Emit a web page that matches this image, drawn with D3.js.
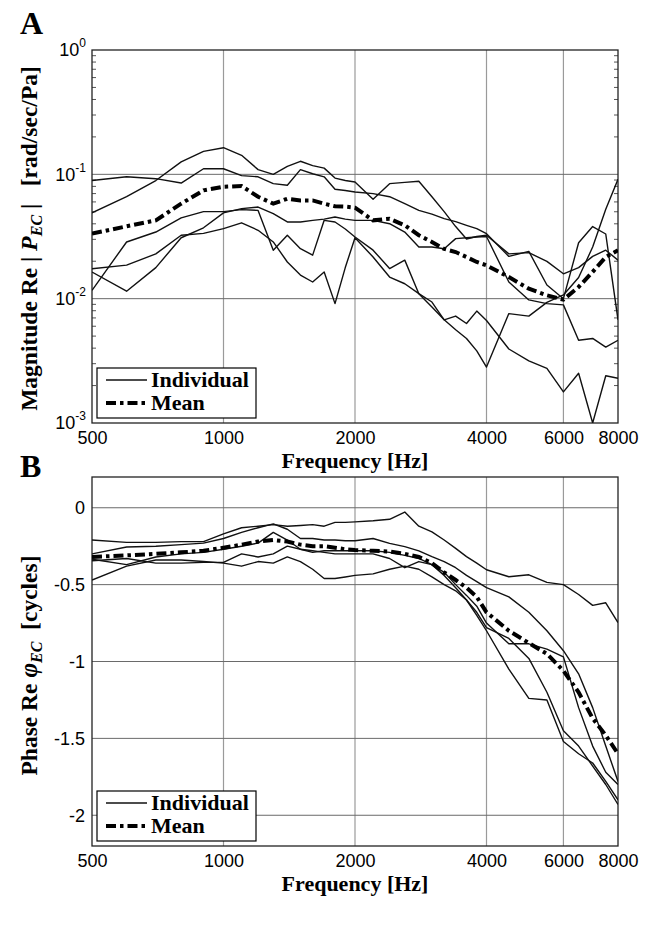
<!DOCTYPE html>
<html><head><meta charset="utf-8">
<script src="https://cdn.jsdelivr.net/npm/d3@7"></script>
<style>body{margin:0;background:#fff}</style>
</head><body>
<svg id="c" width="653" height="926"></svg>
<script>
// Frequencies (Hz)
const freqs = [500,600,700,800,900,1000,1100,1200,1300,1400,1500,1600,1700,1800,1900,2000,
  2200,2400,2600,2800,3000,3200,3400,3600,3800,4000,
  4500,5000,5500,6000,6500,7000,7500,8000];
const xTicks = [500,1000,2000,4000,6000,8000];

// Panel A: log10 of magnitude (rad/sec/Pa)
const magMeanLog10 = [-1.477,-1.418,-1.37,-1.236,-1.129,-1.10,-1.094,-1.18,-1.236,-1.196,-1.21,-1.21,-1.236,-1.257,-1.26,-1.268,
  -1.37,-1.357,-1.41,-1.49,-1.544,-1.60,-1.625,-1.665,-1.705,-1.732,
  -1.826,-1.92,-1.973,-2.008,-1.906,-1.785,-1.665,-1.611];
const magInd1Log10 = [-1.31,-1.18,-1.05,-0.90,-0.815,-0.786,-0.847,-0.962,-1.0,-0.936,-0.895,-0.93,-0.95,-1.03,-1.05,-1.062,
  -1.2,-1.075,-1.065,-1.056,-1.18,-1.30,-1.42,-1.52,-1.50,-1.49,
  -1.64,-1.63,-1.70,-1.80,-1.75,-1.66,-1.61,-1.69];
const magInd2Log10 = [-1.05,-1.02,-1.035,-1.07,-0.955,-0.955,-1.01,-1.02,-1.075,-1.088,-0.962,-0.995,-1.02,-1.12,-1.13,-1.142,
  -1.155,-1.18,-1.236,-1.29,-1.32,-1.356,-1.38,-1.41,-1.437,-1.477,
  -1.66,-1.62,-1.89,-2.0,-1.55,-1.42,-1.48,-2.17];
const magInd3Log10 = [-1.76,-1.73,-1.64,-1.49,-1.475,-1.437,-1.39,-1.45,-1.544,-1.705,-1.81,-1.866,-1.785,-2.04,-1.75,-1.51,
  -1.665,-1.826,-1.88,-1.96,-2.067,-2.17,-2.25,-2.32,-2.42,-2.55,
  -2.12,-2.14,-2.03,-1.97,-1.83,-1.585,-1.28,-1.04];
const magInd4Log10 = [-1.786,-1.94,-1.75,-1.51,-1.43,-1.31,-1.276,-1.263,-1.316,-1.383,-1.383,-1.37,-1.36,-1.343,-1.36,-1.37,
  -1.37,-1.397,-1.464,-1.584,-1.584,-1.598,-1.517,-1.51,-1.504,-1.50,
  -1.866,-2.01,-2.04,-2.05,-2.335,-2.32,-2.39,-2.335];
const magInd5Log10 = [-1.933,-1.544,-1.464,-1.35,-1.30,-1.30,-1.284,-1.29,-1.611,-1.49,-1.598,-1.65,-1.37,-1.383,-1.44,-1.504,
  -1.61,-1.758,-1.69,-1.96,-2.027,-2.17,-2.14,-2.2,-2.1,-2.176,
  -2.405,-2.5,-2.56,-2.75,-2.60,-3.0,-2.62,-2.64];

// Panel B: phase (cycles)
const phaseMean = [-0.32,-0.31,-0.30,-0.29,-0.28,-0.26,-0.24,-0.22,-0.21,-0.22,-0.24,-0.25,-0.25,-0.26,-0.27,-0.275,
  -0.28,-0.285,-0.30,-0.32,-0.36,-0.42,-0.47,-0.52,-0.58,-0.68,
  -0.80,-0.88,-0.95,-1.06,-1.2,-1.37,-1.48,-1.6];
const phaseInd1 = [-0.21,-0.225,-0.225,-0.22,-0.22,-0.17,-0.13,-0.12,-0.11,-0.12,-0.115,-0.11,-0.12,-0.095,-0.095,-0.092,
  -0.085,-0.075,-0.028,-0.12,-0.157,-0.21,-0.264,-0.318,-0.36,-0.403,
  -0.449,-0.436,-0.485,-0.5,-0.564,-0.635,-0.618,-0.747];
const phaseInd2 = [-0.30,-0.255,-0.25,-0.24,-0.23,-0.20,-0.16,-0.13,-0.105,-0.14,-0.20,-0.20,-0.21,-0.21,-0.215,-0.215,
  -0.20,-0.232,-0.253,-0.28,-0.318,-0.35,-0.39,-0.44,-0.48,-0.52,
  -0.58,-0.68,-0.80,-0.93,-1.08,-1.30,-1.55,-1.78];
const phaseInd3 = [-0.335,-0.37,-0.32,-0.30,-0.29,-0.27,-0.25,-0.23,-0.16,-0.21,-0.27,-0.29,-0.28,-0.28,-0.28,-0.28,
  -0.28,-0.29,-0.31,-0.33,-0.37,-0.42,-0.50,-0.57,-0.64,-0.75,
  -0.885,-0.885,-0.92,-0.97,-1.3,-1.55,-1.72,-1.80];
const phaseInd4 = [-0.345,-0.33,-0.36,-0.36,-0.355,-0.355,-0.30,-0.32,-0.30,-0.25,-0.27,-0.28,-0.29,-0.30,-0.30,-0.30,
  -0.30,-0.33,-0.39,-0.35,-0.37,-0.44,-0.52,-0.60,-0.70,-0.80,
  -1.05,-1.24,-1.25,-1.52,-1.6,-1.66,-1.78,-1.90];
const phaseInd5 = [-0.47,-0.38,-0.34,-0.34,-0.35,-0.36,-0.38,-0.35,-0.36,-0.32,-0.35,-0.40,-0.46,-0.46,-0.45,-0.44,
  -0.43,-0.40,-0.38,-0.40,-0.45,-0.50,-0.54,-0.60,-0.68,-0.78,
  -0.85,-0.98,-1.20,-1.45,-1.55,-1.68,-1.80,-1.93];

const magTicks = [1e-3,1e-2,1e-1,1];
const magTickExp = ["-3","-2","-1","0"];
const phaseTicks = [0,-0.5,-1,-1.5,-2];
const phaseTickLabels = ["0","-0.5","-1","-1.5","-2"];

const svg = d3.select("#c");
const serif = "'Liberation Serif','Times New Roman',serif";
const sans = "'Liberation Sans',Arial,sans-serif";
const L = 92, R = 618;

const x = d3.scaleLog().domain([500,8000]).range([L,R]);

function panel(top, bot, y, isLog, letter, letterY) {
  const g = svg.append("g");
  g.selectAll(".vg").data(xTicks.slice(1,-1)).join("line")
    .attr("x1",d=>x(d)).attr("x2",d=>x(d)).attr("y1",top).attr("y2",bot)
    .attr("stroke","#9a9a9a").attr("stroke-width",1.2);
  const hg = isLog ? [1e-2,1e-1] : phaseTicks;
  g.selectAll(".hg").data(hg).join("line")
    .attr("x1",L).attr("x2",R).attr("y1",d=>y(d)).attr("y2",d=>y(d))
    .attr("stroke","#6a6a6a").attr("stroke-width",1);
  if (isLog) {
    const minors = [];
    for (let e=-3;e<0;e++) for (let m=2;m<=9;m++) minors.push(m*Math.pow(10,e));
    g.selectAll(".mt").data(minors).join("line")
      .attr("x1",L).attr("x2",L+4).attr("y1",d=>y(d)).attr("y2",d=>y(d))
      .attr("stroke","#555").attr("stroke-width",1);
    g.selectAll(".mt2").data(minors).join("line")
      .attr("x1",R).attr("x2",R-4).attr("y1",d=>y(d)).attr("y2",d=>y(d))
      .attr("stroke","#555").attr("stroke-width",1);
  }
  const xa = d3.axisBottom(x).tickValues(xTicks).tickFormat(d3.format("d")).tickSize(0).tickPadding(8);
  const xg = g.append("g").attr("transform",`translate(0,${bot})`).call(xa);
  xg.select(".domain").remove();
  xg.selectAll("text").attr("font-family",sans).attr("font-size",18).attr("fill","#000");
  if (isLog) {
    const ya = d3.axisLeft(y).tickValues(magTicks).tickSize(0).tickPadding(6).tickFormat(()=>"");
    const yg = g.append("g").attr("transform",`translate(${L},0)`).call(ya);
    yg.select(".domain").remove();
    yg.selectAll(".tick text").each(function(d){
      const t = d3.select(this).attr("font-family",sans).attr("font-size",18).attr("fill","#000");
      t.append("tspan").text("10");
      t.append("tspan").attr("font-size",12).attr("dy",-9).text(magTickExp[magTicks.indexOf(d)]);
    });
  } else {
    const ya = d3.axisLeft(y).tickValues(phaseTicks).tickSize(0).tickPadding(7)
      .tickFormat(d=>phaseTickLabels[phaseTicks.indexOf(d)]);
    const yg = g.append("g").attr("transform",`translate(${L},0)`).call(ya);
    yg.select(".domain").remove();
    yg.selectAll("text").attr("font-family",sans).attr("font-size",18).attr("fill","#000");
  }
  g.append("rect").attr("x",L).attr("y",top).attr("width",R-L).attr("height",bot-top)
    .attr("fill","none").attr("stroke","#222").attr("stroke-width",1.3);
  svg.append("text").attr("x",20).attr("y",letterY).attr("font-family",serif).attr("font-weight","bold")
    .attr("font-size",32).text(letter);
  svg.append("text").attr("x",(L+R)/2).attr("y",bot+45).attr("text-anchor","middle")
    .attr("font-family",serif).attr("font-weight","bold").attr("font-size",22).text("Frequency [Hz]");
  return g;
}

function drawLines(g, y, series, mean, valFn, top, bot) {
  const clipId = "clip"+Math.round(top);
  svg.append("clipPath").attr("id",clipId).append("rect").attr("x",L).attr("y",top).attr("width",R-L).attr("height",bot-top);
  const line = d3.line().x((d,i)=>x(freqs[i])).y(d=>y(valFn(d)));
  const lg = g.append("g").attr("clip-path",`url(#${clipId})`);
  series.forEach(s=>{
    lg.append("path").attr("d",line(s)).attr("fill","none").attr("stroke","#111").attr("stroke-width",1.4)
      .attr("stroke-linejoin","round");
  });
  lg.append("path").attr("d",line(mean)).attr("fill","none").attr("stroke","#000").attr("stroke-width",4)
    .attr("stroke-dasharray","10,4,3.5,4");
}

function legend(bot) {
  const bx = 97, by = bot-55, bw = 159, bh = 50;
  const g = svg.append("g");
  g.append("rect").attr("x",bx).attr("y",by).attr("width",bw).attr("height",bh)
    .attr("fill","#fff").attr("stroke","#000").attr("stroke-width",1.2);
  g.append("line").attr("x1",bx+9).attr("x2",bx+50).attr("y1",bot-43).attr("y2",bot-43)
    .attr("stroke","#111").attr("stroke-width",1.4);
  g.append("line").attr("x1",bx+9).attr("x2",bx+50).attr("y1",bot-20).attr("y2",bot-20)
    .attr("stroke","#000").attr("stroke-width",4).attr("stroke-dasharray","10,4,3.5,4");
  g.append("text").attr("x",bx+54).attr("y",bot-36).attr("font-family",serif).attr("font-weight","bold")
    .attr("font-size",22).text("Individual");
  g.append("text").attr("x",bx+54).attr("y",bot-13).attr("font-family",serif).attr("font-weight","bold")
    .attr("font-size",22).text("Mean");
}

// Panel A
const aTop = 50, aBot = 423;
const yA = d3.scaleLog().domain([1e-3,1]).range([aBot,aTop]);
const gA = panel(aTop, aBot, yA, true, "A", 34);
drawLines(gA, yA, [magInd1Log10,magInd2Log10,magInd3Log10,magInd4Log10,magInd5Log10], magMeanLog10,
  v=>Math.pow(10,v), aTop, aBot);
legend(aBot);
const tA = svg.append("text").attr("transform",`translate(37,${(aTop+aBot)/2+2}) rotate(-90)`)
  .attr("text-anchor","middle").attr("font-family",serif).attr("font-weight","bold").attr("font-size",23.5);
tA.append("tspan").text("Magnitude Re |\u00a0");
tA.append("tspan").attr("font-style","italic").attr("font-size",24).text("P");
tA.append("tspan").attr("font-style","italic").attr("font-size",16).attr("dy",5).text("EC");
tA.append("tspan").attr("dy",-5).text("\u00a0|\u00a0\u00a0\u00a0[rad/sec/Pa]");

// Panel B
const bTop = 477, bBot = 846;
const yB = d3.scaleLinear().domain([-2.2,0.2]).range([bBot,bTop]);
const gB = panel(bTop, bBot, yB, false, "B", 477);
drawLines(gB, yB, [phaseInd1,phaseInd2,phaseInd3,phaseInd4,phaseInd5], phaseMean, v=>v, bTop, bBot);
legend(bBot);
const tB = svg.append("text").attr("transform",`translate(37,${(bTop+bBot)/2+4}) rotate(-90)`)
  .attr("text-anchor","middle").attr("font-family",serif).attr("font-weight","bold").attr("font-size",23.5);
tB.append("tspan").text("Phase Re\u00a0");
tB.append("tspan").attr("font-style","italic").attr("font-size",25).text("\u03c6");
tB.append("tspan").attr("font-style","italic").attr("font-size",16).attr("dy",5).text("EC");
tB.append("tspan").attr("dy",-5).text("\u00a0\u00a0[cycles]");
</script>
</body></html>
